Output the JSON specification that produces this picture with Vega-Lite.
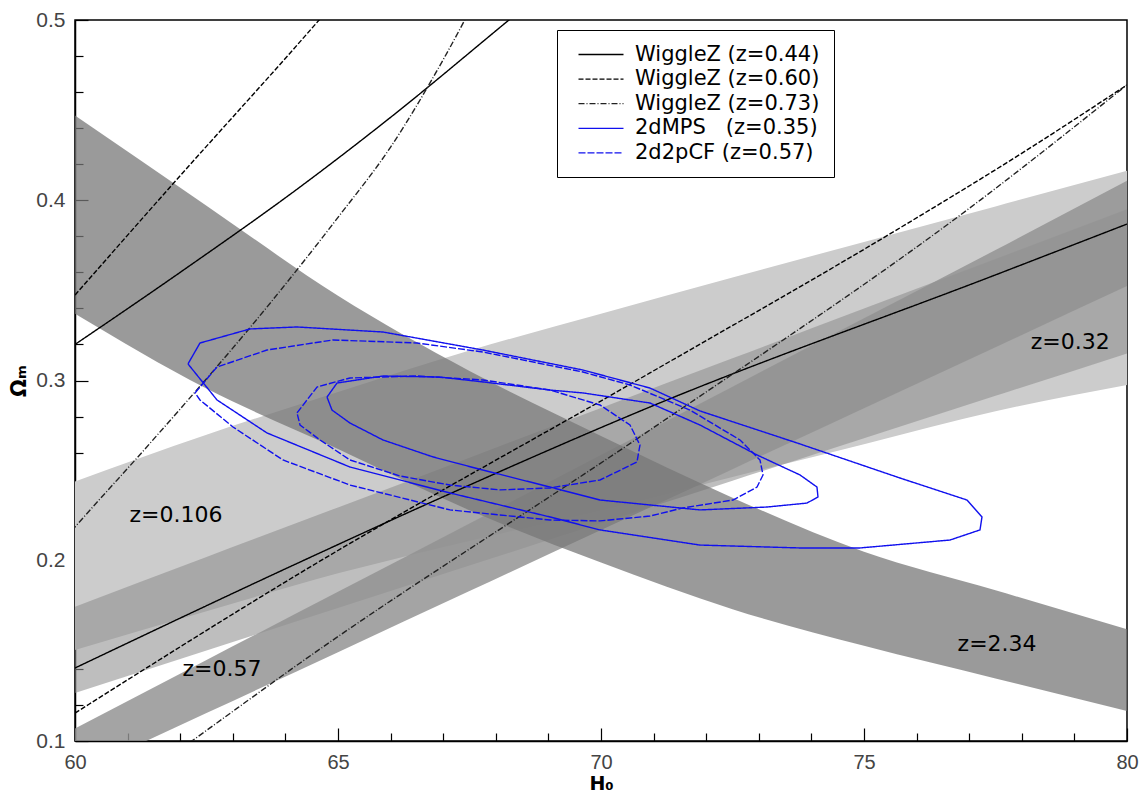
{
  "$schema": "https://vega.github.io/schema/vega-lite/v6.json",
  "width": 1052,
  "height": 721,
  "autosize": {"type": "none"},
  "padding": {"left": 75, "top": 20, "right": 15, "bottom": 53},
  "background": "white",
  "config": {
    "view": {"stroke": "black", "strokeWidth": 1.5},
    "legend": {
      "orient": "none", "legendX": 482, "legendY": 10,
      "symbolType": "M-1,0H4", "symbolSize": 324, "symbolStrokeWidth": 1.3, "symbolOffset": 6,
      "labelFont": "DejaVu Sans", "labelFontSize": 21, "labelColor": "black", "labelLimit": 0,
      "strokeColor": "black", "fillColor": "white", "padding": 14, "rowPadding": 2.6,
      "labelOffset": 37, "cornerRadius": 0
    }
  },
  "datasets": {
    "bands": [
      {"b": "z106", "H": 60, "O2": 0.1505, "O": 0.244},
      {"b": "z106", "H": 62.5, "O2": 0.172, "O": 0.2699},
      {"b": "z106", "H": 65, "O2": 0.193, "O": 0.2936},
      {"b": "z106", "H": 67.5, "O2": 0.211, "O": 0.3166},
      {"b": "z106", "H": 70, "O2": 0.228, "O": 0.3371},
      {"b": "z106", "H": 72.5, "O2": 0.2465, "O": 0.3571},
      {"b": "z106", "H": 75, "O2": 0.2647, "O": 0.3769},
      {"b": "z106", "H": 77.5, "O2": 0.283, "O": 0.3966},
      {"b": "z106", "H": 80, "O2": 0.2975, "O": 0.4164},
      {"b": "z32", "H": 60, "O2": 0.1266, "O": 0.1745},
      {"b": "z32", "H": 62.5, "O2": 0.1502, "O": 0.2021},
      {"b": "z32", "H": 65, "O2": 0.1738, "O": 0.2296},
      {"b": "z32", "H": 67.5, "O2": 0.1973, "O": 0.2572},
      {"b": "z32", "H": 70, "O2": 0.2209, "O": 0.2848},
      {"b": "z32", "H": 72.5, "O2": 0.2444, "O": 0.3123},
      {"b": "z32", "H": 75, "O2": 0.268, "O": 0.3399},
      {"b": "z32", "H": 77.5, "O2": 0.2915, "O": 0.3674},
      {"b": "z32", "H": 80, "O2": 0.315, "O": 0.395},
      {"b": "z57", "H": 60, "O2": 0.0817, "O": 0.107},
      {"b": "z57", "H": 62.5, "O2": 0.1155, "O": 0.1449},
      {"b": "z57", "H": 65, "O2": 0.1493, "O": 0.1828},
      {"b": "z57", "H": 67.5, "O2": 0.1832, "O": 0.2207},
      {"b": "z57", "H": 70, "O2": 0.217, "O": 0.2586},
      {"b": "z57", "H": 72.5, "O2": 0.2508, "O": 0.2966},
      {"b": "z57", "H": 75, "O2": 0.2846, "O": 0.3345},
      {"b": "z57", "H": 77.5, "O2": 0.3185, "O": 0.3724},
      {"b": "z57", "H": 80, "O2": 0.3524, "O": 0.4108},
      {"b": "z234", "H": 60, "O2": 0.337, "O": 0.447},
      {"b": "z234", "H": 62.5, "O2": 0.2955, "O": 0.397},
      {"b": "z234", "H": 65, "O2": 0.262, "O": 0.347},
      {"b": "z234", "H": 67.5, "O2": 0.228, "O": 0.3053},
      {"b": "z234", "H": 70, "O2": 0.199, "O": 0.2692},
      {"b": "z234", "H": 72.5, "O2": 0.1731, "O": 0.235},
      {"b": "z234", "H": 75, "O2": 0.1528, "O": 0.205},
      {"b": "z234", "H": 77.5, "O2": 0.1347, "O": 0.1836},
      {"b": "z234", "H": 80, "O2": 0.1166, "O": 0.162}
    ],
    "wiggle": [
      {"s": "WiggleZ (z=0.44)", "p": "w44a", "i": 0, "H": 60, "O": 0.32},
      {"s": "WiggleZ (z=0.44)", "p": "w44a", "i": 1, "H": 62, "O": 0.36},
      {"s": "WiggleZ (z=0.44)", "p": "w44a", "i": 2, "H": 64.28, "O": 0.4074},
      {"s": "WiggleZ (z=0.44)", "p": "w44a", "i": 3, "H": 66, "O": 0.446},
      {"s": "WiggleZ (z=0.44)", "p": "w44a", "i": 4, "H": 68.25, "O": 0.5},
      {"s": "WiggleZ (z=0.44)", "p": "w44a", "i": 5, "H": 69, "O": 0.518},
      {"s": "WiggleZ (z=0.44)", "p": "w44b", "i": 0, "H": 60, "O": 0.1405},
      {"s": "WiggleZ (z=0.44)", "p": "w44b", "i": 1, "H": 64.28, "O": 0.1993},
      {"s": "WiggleZ (z=0.44)", "p": "w44b", "i": 2, "H": 67, "O": 0.2355},
      {"s": "WiggleZ (z=0.44)", "p": "w44b", "i": 3, "H": 70.93, "O": 0.2853},
      {"s": "WiggleZ (z=0.44)", "p": "w44b", "i": 4, "H": 77.59, "O": 0.3596},
      {"s": "WiggleZ (z=0.44)", "p": "w44b", "i": 5, "H": 80, "O": 0.3868},
      {"s": "WiggleZ (z=0.60)", "p": "w60a", "i": 0, "H": 60, "O": 0.3474},
      {"s": "WiggleZ (z=0.60)", "p": "w60a", "i": 1, "H": 61.81, "O": 0.4074},
      {"s": "WiggleZ (z=0.60)", "p": "w60a", "i": 2, "H": 64.28, "O": 0.488},
      {"s": "WiggleZ (z=0.60)", "p": "w60a", "i": 3, "H": 65, "O": 0.512},
      {"s": "WiggleZ (z=0.60)", "p": "w60b", "i": 0, "H": 60, "O": 0.1155},
      {"s": "WiggleZ (z=0.60)", "p": "w60b", "i": 1, "H": 64.28, "O": 0.1932},
      {"s": "WiggleZ (z=0.60)", "p": "w60b", "i": 2, "H": 70.93, "O": 0.3042},
      {"s": "WiggleZ (z=0.60)", "p": "w60b", "i": 3, "H": 75.68, "O": 0.3846},
      {"s": "WiggleZ (z=0.60)", "p": "w60b", "i": 4, "H": 78.1, "O": 0.4279},
      {"s": "WiggleZ (z=0.60)", "p": "w60b", "i": 5, "H": 80, "O": 0.464},
      {"s": "WiggleZ (z=0.73)", "p": "w73a", "i": 0, "H": 59.8, "O": 0.212},
      {"s": "WiggleZ (z=0.73)", "p": "w73a", "i": 1, "H": 60, "O": 0.2187},
      {"s": "WiggleZ (z=0.73)", "p": "w73a", "i": 2, "H": 61.43, "O": 0.2653},
      {"s": "WiggleZ (z=0.73)", "p": "w73a", "i": 3, "H": 63.76, "O": 0.3447},
      {"s": "WiggleZ (z=0.73)", "p": "w73a", "i": 4, "H": 65, "O": 0.3905},
      {"s": "WiggleZ (z=0.73)", "p": "w73a", "i": 5, "H": 66, "O": 0.4295},
      {"s": "WiggleZ (z=0.73)", "p": "w73a", "i": 6, "H": 67, "O": 0.478},
      {"s": "WiggleZ (z=0.73)", "p": "w73a", "i": 7, "H": 67.41, "O": 0.5},
      {"s": "WiggleZ (z=0.73)", "p": "w73a", "i": 8, "H": 67.8, "O": 0.522},
      {"s": "WiggleZ (z=0.73)", "p": "w73b", "i": 0, "H": 61.5, "O": 0.085},
      {"s": "WiggleZ (z=0.73)", "p": "w73b", "i": 1, "H": 62.22, "O": 0.1},
      {"s": "WiggleZ (z=0.73)", "p": "w73b", "i": 2, "H": 64.28, "O": 0.1433},
      {"s": "WiggleZ (z=0.73)", "p": "w73b", "i": 3, "H": 70.93, "O": 0.2725},
      {"s": "WiggleZ (z=0.73)", "p": "w73b", "i": 4, "H": 77.21, "O": 0.4001},
      {"s": "WiggleZ (z=0.73)", "p": "w73b", "i": 5, "H": 80, "O": 0.464}
    ],
    "curves": [
      {"s": "2dMPS\u00a0\u00a0\u00a0(z=0.35)", "p": "m2", "i": 0, "H": 62.148, "O": 0.3092},
      {"s": "2dMPS\u00a0\u00a0\u00a0(z=0.35)", "p": "m2", "i": 1, "H": 62.376, "O": 0.3208},
      {"s": "2dMPS\u00a0\u00a0\u00a0(z=0.35)", "p": "m2", "i": 2, "H": 63.327, "O": 0.3286},
      {"s": "2dMPS\u00a0\u00a0\u00a0(z=0.35)", "p": "m2", "i": 3, "H": 64.221, "O": 0.3297},
      {"s": "2dMPS\u00a0\u00a0\u00a0(z=0.35)", "p": "m2", "i": 4, "H": 65.856, "O": 0.3269},
      {"s": "2dMPS\u00a0\u00a0\u00a0(z=0.35)", "p": "m2", "i": 5, "H": 67.757, "O": 0.3169},
      {"s": "2dMPS\u00a0\u00a0\u00a0(z=0.35)", "p": "m2", "i": 6, "H": 69.658, "O": 0.3058},
      {"s": "2dMPS\u00a0\u00a0\u00a0(z=0.35)", "p": "m2", "i": 7, "H": 70.932, "O": 0.2958},
      {"s": "2dMPS\u00a0\u00a0\u00a0(z=0.35)", "p": "m2", "i": 8, "H": 71.882, "O": 0.2831},
      {"s": "2dMPS\u00a0\u00a0\u00a0(z=0.35)", "p": "m2", "i": 9, "H": 73.783, "O": 0.2648},
      {"s": "2dMPS\u00a0\u00a0\u00a0(z=0.35)", "p": "m2", "i": 10, "H": 75.684, "O": 0.2459},
      {"s": "2dMPS\u00a0\u00a0\u00a0(z=0.35)", "p": "m2", "i": 11, "H": 76.958, "O": 0.2337},
      {"s": "2dMPS\u00a0\u00a0\u00a0(z=0.35)", "p": "m2", "i": 12, "H": 77.243, "O": 0.2243},
      {"s": "2dMPS\u00a0\u00a0\u00a0(z=0.35)", "p": "m2", "i": 13, "H": 77.205, "O": 0.2171},
      {"s": "2dMPS\u00a0\u00a0\u00a0(z=0.35)", "p": "m2", "i": 14, "H": 76.635, "O": 0.2115},
      {"s": "2dMPS\u00a0\u00a0\u00a0(z=0.35)", "p": "m2", "i": 15, "H": 74.924, "O": 0.2071},
      {"s": "2dMPS\u00a0\u00a0\u00a0(z=0.35)", "p": "m2", "i": 16, "H": 73.783, "O": 0.2071},
      {"s": "2dMPS\u00a0\u00a0\u00a0(z=0.35)", "p": "m2", "i": 17, "H": 71.882, "O": 0.2087},
      {"s": "2dMPS\u00a0\u00a0\u00a0(z=0.35)", "p": "m2", "i": 18, "H": 69.981, "O": 0.2171},
      {"s": "2dMPS\u00a0\u00a0\u00a0(z=0.35)", "p": "m2", "i": 19, "H": 69.03, "O": 0.2243},
      {"s": "2dMPS\u00a0\u00a0\u00a0(z=0.35)", "p": "m2", "i": 20, "H": 67.129, "O": 0.2376},
      {"s": "2dMPS\u00a0\u00a0\u00a0(z=0.35)", "p": "m2", "i": 21, "H": 65.228, "O": 0.252},
      {"s": "2dMPS\u00a0\u00a0\u00a0(z=0.35)", "p": "m2", "i": 22, "H": 63.65, "O": 0.2709},
      {"s": "2dMPS\u00a0\u00a0\u00a0(z=0.35)", "p": "m2", "i": 23, "H": 62.7, "O": 0.2892},
      {"s": "2dMPS\u00a0\u00a0\u00a0(z=0.35)", "p": "m2", "i": 24, "H": 62.148, "O": 0.3092},
      {"s": "2dMPS\u00a0\u00a0\u00a0(z=0.35)", "p": "m1", "i": 0, "H": 64.791, "O": 0.2908},
      {"s": "2dMPS\u00a0\u00a0\u00a0(z=0.35)", "p": "m1", "i": 1, "H": 64.981, "O": 0.2986},
      {"s": "2dMPS\u00a0\u00a0\u00a0(z=0.35)", "p": "m1", "i": 2, "H": 65.856, "O": 0.3025},
      {"s": "2dMPS\u00a0\u00a0\u00a0(z=0.35)", "p": "m1", "i": 3, "H": 66.939, "O": 0.3019},
      {"s": "2dMPS\u00a0\u00a0\u00a0(z=0.35)", "p": "m1", "i": 4, "H": 67.757, "O": 0.2992},
      {"s": "2dMPS\u00a0\u00a0\u00a0(z=0.35)", "p": "m1", "i": 5, "H": 69.03, "O": 0.2947},
      {"s": "2dMPS\u00a0\u00a0\u00a0(z=0.35)", "p": "m1", "i": 6, "H": 69.658, "O": 0.2931},
      {"s": "2dMPS\u00a0\u00a0\u00a0(z=0.35)", "p": "m1", "i": 7, "H": 70.932, "O": 0.2875},
      {"s": "2dMPS\u00a0\u00a0\u00a0(z=0.35)", "p": "m1", "i": 8, "H": 71.882, "O": 0.2753},
      {"s": "2dMPS\u00a0\u00a0\u00a0(z=0.35)", "p": "m1", "i": 9, "H": 72.966, "O": 0.2587},
      {"s": "2dMPS\u00a0\u00a0\u00a0(z=0.35)", "p": "m1", "i": 10, "H": 73.783, "O": 0.2476},
      {"s": "2dMPS\u00a0\u00a0\u00a0(z=0.35)", "p": "m1", "i": 11, "H": 74.106, "O": 0.2409},
      {"s": "2dMPS\u00a0\u00a0\u00a0(z=0.35)", "p": "m1", "i": 12, "H": 74.125, "O": 0.2354},
      {"s": "2dMPS\u00a0\u00a0\u00a0(z=0.35)", "p": "m1", "i": 13, "H": 73.916, "O": 0.232},
      {"s": "2dMPS\u00a0\u00a0\u00a0(z=0.35)", "p": "m1", "i": 14, "H": 73.156, "O": 0.2298},
      {"s": "2dMPS\u00a0\u00a0\u00a0(z=0.35)", "p": "m1", "i": 15, "H": 71.882, "O": 0.2282},
      {"s": "2dMPS\u00a0\u00a0\u00a0(z=0.35)", "p": "m1", "i": 16, "H": 69.981, "O": 0.2337},
      {"s": "2dMPS\u00a0\u00a0\u00a0(z=0.35)", "p": "m1", "i": 17, "H": 69.03, "O": 0.2409},
      {"s": "2dMPS\u00a0\u00a0\u00a0(z=0.35)", "p": "m1", "i": 18, "H": 67.757, "O": 0.2503},
      {"s": "2dMPS\u00a0\u00a0\u00a0(z=0.35)", "p": "m1", "i": 19, "H": 66.806, "O": 0.2576},
      {"s": "2dMPS\u00a0\u00a0\u00a0(z=0.35)", "p": "m1", "i": 20, "H": 65.856, "O": 0.267},
      {"s": "2dMPS\u00a0\u00a0\u00a0(z=0.35)", "p": "m1", "i": 21, "H": 65.228, "O": 0.2764},
      {"s": "2dMPS\u00a0\u00a0\u00a0(z=0.35)", "p": "m1", "i": 22, "H": 64.886, "O": 0.2836},
      {"s": "2dMPS\u00a0\u00a0\u00a0(z=0.35)", "p": "m1", "i": 23, "H": 64.791, "O": 0.2908},
      {"s": "2d2pCF (z=0.57)", "p": "c2", "i": 0, "H": 62.281, "O": 0.2931},
      {"s": "2d2pCF (z=0.57)", "p": "c2", "i": 1, "H": 62.7, "O": 0.3075},
      {"s": "2d2pCF (z=0.57)", "p": "c2", "i": 2, "H": 63.65, "O": 0.3169},
      {"s": "2d2pCF (z=0.57)", "p": "c2", "i": 3, "H": 64.905, "O": 0.3225},
      {"s": "2d2pCF (z=0.57)", "p": "c2", "i": 4, "H": 66.502, "O": 0.3208},
      {"s": "2d2pCF (z=0.57)", "p": "c2", "i": 5, "H": 67.757, "O": 0.3158},
      {"s": "2d2pCF (z=0.57)", "p": "c2", "i": 6, "H": 69.658, "O": 0.3047},
      {"s": "2d2pCF (z=0.57)", "p": "c2", "i": 7, "H": 70.551, "O": 0.2975},
      {"s": "2d2pCF (z=0.57)", "p": "c2", "i": 8, "H": 71.692, "O": 0.2836},
      {"s": "2d2pCF (z=0.57)", "p": "c2", "i": 9, "H": 72.643, "O": 0.267},
      {"s": "2d2pCF (z=0.57)", "p": "c2", "i": 10, "H": 73.023, "O": 0.2559},
      {"s": "2d2pCF (z=0.57)", "p": "c2", "i": 11, "H": 73.08, "O": 0.2476},
      {"s": "2d2pCF (z=0.57)", "p": "c2", "i": 12, "H": 72.966, "O": 0.2409},
      {"s": "2d2pCF (z=0.57)", "p": "c2", "i": 13, "H": 72.51, "O": 0.2337},
      {"s": "2d2pCF (z=0.57)", "p": "c2", "i": 14, "H": 71.559, "O": 0.2293},
      {"s": "2d2pCF (z=0.57)", "p": "c2", "i": 15, "H": 70.932, "O": 0.2248},
      {"s": "2d2pCF (z=0.57)", "p": "c2", "i": 16, "H": 69.981, "O": 0.2221},
      {"s": "2d2pCF (z=0.57)", "p": "c2", "i": 17, "H": 69.03, "O": 0.2226},
      {"s": "2d2pCF (z=0.57)", "p": "c2", "i": 18, "H": 67.129, "O": 0.2282},
      {"s": "2d2pCF (z=0.57)", "p": "c2", "i": 19, "H": 65.228, "O": 0.242},
      {"s": "2d2pCF (z=0.57)", "p": "c2", "i": 20, "H": 63.954, "O": 0.2559},
      {"s": "2d2pCF (z=0.57)", "p": "c2", "i": 21, "H": 63.004, "O": 0.2742},
      {"s": "2d2pCF (z=0.57)", "p": "c2", "i": 22, "H": 62.376, "O": 0.2892},
      {"s": "2d2pCF (z=0.57)", "p": "c2", "i": 23, "H": 62.281, "O": 0.2931},
      {"s": "2d2pCF (z=0.57)", "p": "c1", "i": 0, "H": 64.221, "O": 0.282},
      {"s": "2d2pCF (z=0.57)", "p": "c1", "i": 1, "H": 64.601, "O": 0.2964},
      {"s": "2d2pCF (z=0.57)", "p": "c1", "i": 2, "H": 65.228, "O": 0.3014},
      {"s": "2d2pCF (z=0.57)", "p": "c1", "i": 3, "H": 66.502, "O": 0.3025},
      {"s": "2d2pCF (z=0.57)", "p": "c1", "i": 4, "H": 67.757, "O": 0.3003},
      {"s": "2d2pCF (z=0.57)", "p": "c1", "i": 5, "H": 69.03, "O": 0.2947},
      {"s": "2d2pCF (z=0.57)", "p": "c1", "i": 6, "H": 69.981, "O": 0.2864},
      {"s": "2d2pCF (z=0.57)", "p": "c1", "i": 7, "H": 70.551, "O": 0.2753},
      {"s": "2d2pCF (z=0.57)", "p": "c1", "i": 8, "H": 70.741, "O": 0.2642},
      {"s": "2d2pCF (z=0.57)", "p": "c1", "i": 9, "H": 70.684, "O": 0.2548},
      {"s": "2d2pCF (z=0.57)", "p": "c1", "i": 10, "H": 69.981, "O": 0.2448},
      {"s": "2d2pCF (z=0.57)", "p": "c1", "i": 11, "H": 69.03, "O": 0.2404},
      {"s": "2d2pCF (z=0.57)", "p": "c1", "i": 12, "H": 68.08, "O": 0.2393},
      {"s": "2d2pCF (z=0.57)", "p": "c1", "i": 13, "H": 67.129, "O": 0.242},
      {"s": "2d2pCF (z=0.57)", "p": "c1", "i": 14, "H": 66.179, "O": 0.247},
      {"s": "2d2pCF (z=0.57)", "p": "c1", "i": 15, "H": 65.228, "O": 0.2559},
      {"s": "2d2pCF (z=0.57)", "p": "c1", "i": 16, "H": 64.658, "O": 0.267},
      {"s": "2d2pCF (z=0.57)", "p": "c1", "i": 17, "H": 64.278, "O": 0.2753},
      {"s": "2d2pCF (z=0.57)", "p": "c1", "i": 18, "H": 64.221, "O": 0.282}
    ],
    "labels": [
      {"t": "z=0.106", "H": 61.92, "O": 0.2254},
      {"t": "z=0.57", "H": 62.795, "O": 0.14},
      {"t": "z=2.34", "H": 77.53, "O": 0.1538},
      {"t": "z=0.32", "H": 78.92, "O": 0.3214}
    ]
  },
  "encoding": {
    "x": {
      "field": "H", "type": "quantitative",
      "scale": {"domain": [60, 80], "nice": false, "zero": false},
      "axis": {
        "title": "H₀",
        "values": [60,61,62,63,64,65,66,67,68,69,70,71,72,73,74,75,76,77,78,79,80],
        "labelExpr": "datum.value % 5 === 0 ? datum.label : ''",
        "tickSize": {"condition": {"test": "datum.value % 5 === 0", "value": -13}, "value": -8},
        "labelPadding": 24,
        "grid": false, "domainColor": "black", "domainWidth": 1.5,
        "tickColor": "black", "tickWidth": 1.2,
        "labelFont": "Liberation Sans", "labelFontSize": 20, "labelColor": "#444444",
        "labelFlush": false, "labelOverlap": false, "labelBound": false,
        "titleFont": "DejaVu Sans", "titleFontSize": 19, "titleFontWeight": "bold", "titleColor": "black",
        "titlePadding": -3
      }
    },
    "y": {
      "field": "O", "type": "quantitative",
      "scale": {"domain": [0.1, 0.5], "nice": false, "zero": false},
      "axis": {
        "title": "Ωₘ",
        "values": [0.1,0.12,0.14,0.16,0.18,0.2,0.22,0.24,0.26,0.28,0.3,0.32,0.34,0.36,0.38,0.4,0.42,0.44,0.46,0.48,0.5],
        "labelExpr": "abs(datum.value*10 - round(datum.value*10)) < 0.001 ? format(datum.value, '.1f') : ''",
        "tickSize": {"condition": {"test": "abs(datum.value*10 - round(datum.value*10)) < 0.001", "value": -13}, "value": -8},
        "labelPadding": 23,
        "grid": false, "domainColor": "black", "domainWidth": 1.5,
        "tickColor": "black", "tickWidth": 1.2,
        "labelFont": "Liberation Sans", "labelFontSize": 21, "labelColor": "#444444",
        "labelFlush": false, "labelOverlap": false, "labelBound": false,
        "titleFont": "DejaVu Sans", "titleFontSize": 21, "titleFontWeight": "bold", "titleColor": "black",
        "titlePadding": 6
      }
    }
  },
  "layer": [
    {
      "data": {"name": "bands"},
      "transform": [{"filter": "datum.b === 'z106'"}],
      "mark": {"type": "area", "fill": "#cccccc", "opacity": 1, "clip": true, "interpolate": "monotone"},
      "encoding": {"y2": {"field": "O2"}}
    },
    {
      "data": {"name": "bands"},
      "transform": [{"filter": "datum.b === 'z32'"}],
      "mark": {"type": "area", "fill": "#8d8d8d", "opacity": 0.57, "clip": true, "interpolate": "monotone"},
      "encoding": {"y2": {"field": "O2"}}
    },
    {
      "data": {"name": "bands"},
      "transform": [{"filter": "datum.b === 'z57'"}],
      "mark": {"type": "area", "fill": "#929292", "opacity": 0.83, "clip": true, "interpolate": "monotone"},
      "encoding": {"y2": {"field": "O2"}}
    },
    {
      "data": {"name": "bands"},
      "transform": [{"filter": "datum.b === 'z234'"}],
      "mark": {"type": "area", "fill": "#777777", "opacity": 0.745, "clip": true, "interpolate": "monotone"},
      "encoding": {"y2": {"field": "O2"}}
    },
    {
      "data": {"name": "wiggle"},
      "mark": {"type": "line", "strokeWidth": 1.4, "clip": true, "interpolate": "monotone"},
      "encoding": {
        "detail": {"field": "p"},
        "order": {"field": "i", "type": "quantitative"},
        "color": {
          "field": "s", "type": "nominal",
          "scale": {
            "domain": ["WiggleZ (z=0.44)", "WiggleZ (z=0.60)", "WiggleZ (z=0.73)", "2dMPS\u00a0\u00a0\u00a0(z=0.35)", "2d2pCF (z=0.57)"],
            "range": ["#000000", "#000000", "#222222", "#1010ee", "#1010ee"]
          },
          "legend": {"title": null}
        },
        "strokeDash": {
          "field": "s", "type": "nominal",
          "scale": {
            "domain": ["WiggleZ (z=0.44)", "WiggleZ (z=0.60)", "WiggleZ (z=0.73)", "2dMPS\u00a0\u00a0\u00a0(z=0.35)", "2d2pCF (z=0.57)"],
            "range": [[1, 0], [5, 2], [6, 2, 1, 2], [1, 0], [7, 2]]
          },
          "legend": {"title": null}
        }
      }
    },
    {
      "data": {"name": "curves"},
      "mark": {"type": "line", "strokeWidth": 1.4, "clip": true, "interpolate": "linear"},
      "encoding": {
        "detail": {"field": "p"},
        "order": {"field": "i", "type": "quantitative"},
        "color": {
          "field": "s", "type": "nominal",
          "scale": {
            "domain": ["WiggleZ (z=0.44)", "WiggleZ (z=0.60)", "WiggleZ (z=0.73)", "2dMPS\u00a0\u00a0\u00a0(z=0.35)", "2d2pCF (z=0.57)"],
            "range": ["#000000", "#000000", "#222222", "#1010ee", "#1010ee"]
          },
          "legend": {"title": null}
        },
        "strokeDash": {
          "field": "s", "type": "nominal",
          "scale": {
            "domain": ["WiggleZ (z=0.44)", "WiggleZ (z=0.60)", "WiggleZ (z=0.73)", "2dMPS\u00a0\u00a0\u00a0(z=0.35)", "2d2pCF (z=0.57)"],
            "range": [[1, 0], [5, 2], [6, 2, 1, 2], [1, 0], [7, 2]]
          },
          "legend": {"title": null}
        }
      }
    },
    {
      "data": {"name": "labels"},
      "mark": {"type": "text", "font": "DejaVu Sans", "fontSize": 22, "color": "black", "align": "center", "baseline": "middle"},
      "encoding": {"text": {"field": "t"}}
    }
  ]
}
